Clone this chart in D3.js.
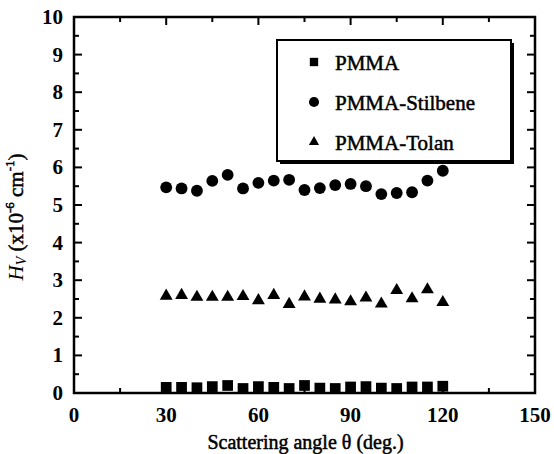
<!DOCTYPE html>
<html><head><meta charset="utf-8">
<script src="https://cdn.jsdelivr.net/npm/d3@7"></script>
<style>body{margin:0;background:#fff}svg{display:block}</style>
</head><body><svg id="c" width="554" height="454"></svg>
<script>
const angles = [30,35,40,45,50,55,60,65,70,75,80,85,90,95,100,105,110,115,120];
const pmma = [0.15,0.15,0.14,0.17,0.2,0.12,0.17,0.15,0.12,0.2,0.13,0.12,0.16,0.17,0.13,0.12,0.16,0.16,0.18];
const stilbene = [5.47,5.44,5.38,5.64,5.80,5.44,5.59,5.65,5.67,5.40,5.45,5.53,5.56,5.50,5.29,5.32,5.34,5.65,5.91];
const tolan = [2.58,2.60,2.55,2.55,2.55,2.57,2.46,2.60,2.36,2.56,2.50,2.48,2.43,2.53,2.37,2.73,2.51,2.75,2.41];
const xTicks = [0,30,60,90,120,150];
const yTicks = [0,1,2,3,4,5,6,7,8,9,10];
const seriesNames = ["PMMA","PMMA-Stilbene","PMMA-Tolan"];

const svg = d3.select("#c");
const L=74,R=535,T=17,B=393;
const x = d3.scaleLinear().domain([0,150]).range([L,R]);
const y = d3.scaleLinear().domain([0,10]).range([B,T]);
const font = "'Liberation Serif','Times New Roman',serif";

const g = svg.append("g");
const xMinor = d3.range(0,151,15);
const yMinor = d3.range(0,10.01,0.5);
xMinor.forEach(v=>{
  const len = v%30===0?8:5;
  g.append("line").attr("x1",x(v)).attr("x2",x(v)).attr("y1",B).attr("y2",B-len).attr("stroke","#000").attr("stroke-width",2);
  g.append("line").attr("x1",x(v)).attr("x2",x(v)).attr("y1",T).attr("y2",T+len).attr("stroke","#000").attr("stroke-width",2);
});
yMinor.forEach(v=>{
  const len = Math.abs(v-Math.round(v))<1e-6?8:5;
  g.append("line").attr("x1",L).attr("x2",L+len).attr("y1",y(v)).attr("y2",y(v)).attr("stroke","#000").attr("stroke-width",2);
  g.append("line").attr("x1",R).attr("x2",R-len).attr("y1",y(v)).attr("y2",y(v)).attr("stroke","#000").attr("stroke-width",2);
});
svg.append("rect").attr("x",L).attr("y",T).attr("width",R-L).attr("height",B-T)
  .attr("fill","none").attr("stroke","#000").attr("stroke-width",2.5);

svg.selectAll(".xt").data(xTicks).enter().append("text")
  .attr("x",d=>x(d)).attr("y",B+29).attr("text-anchor","middle")
  .attr("font-family",font).attr("font-weight","bold").attr("font-size",21).text(d=>d);
svg.selectAll(".yt").data(yTicks).enter().append("text")
  .attr("x",L-11).attr("y",d=>y(d)+7).attr("text-anchor","end")
  .attr("font-family",font).attr("font-weight","bold").attr("font-size",21).text(d=>d);

svg.append("text").attr("x",(L+R)/2+1).attr("y",449).attr("text-anchor","middle")
  .attr("font-family",font).attr("font-size",20).attr("stroke","#000").attr("stroke-width",0.5)
  .text("Scattering angle θ (deg.)");
const yl = svg.append("text").attr("transform",`translate(23,${(T+B)/2+12}) rotate(-90)`)
  .attr("text-anchor","middle").attr("font-family",font).attr("font-size",21)
  .attr("stroke","#000").attr("stroke-width",0.5);
yl.append("tspan").attr("font-style","italic").attr("stroke-width",0).text("H");
yl.append("tspan").attr("font-style","italic").attr("stroke-width",0).attr("font-size",14).attr("dy",3).text("V");
yl.append("tspan").attr("dy",-3).text(" (x10");
yl.append("tspan").attr("font-size",13).attr("dy",-9).text("-6");
yl.append("tspan").attr("dy",9).text(" cm");
yl.append("tspan").attr("font-size",13).attr("dy",-9).text("-1");
yl.append("tspan").attr("dy",9).text(")");

const sq = d3.symbol().type(d3.symbolSquare).size(115);
const ci = d3.symbol().type(d3.symbolCircle).size(110);
const tr = d3.symbol().type(d3.symbolTriangle).size(72);
svg.selectAll(".p").data(angles).enter().append("path")
  .attr("transform",(d,i)=>`translate(${x(d)},${y(pmma[i])})`).attr("d",sq).attr("fill","#000");
svg.selectAll(".s").data(angles).enter().append("path")
  .attr("transform",(d,i)=>`translate(${x(d)},${y(stilbene[i])})`).attr("d",ci).attr("fill","#000");
svg.selectAll(".t").data(angles).enter().append("path")
  .attr("transform",(d,i)=>`translate(${x(d)},${y(tolan[i])})`).attr("d",tr).attr("fill","#000");

const lx=277, ly=40, lw=234, lh=121;
svg.append("rect").attr("x",lx+3).attr("y",ly+3).attr("width",lw).attr("height",lh).attr("fill","#000");
svg.append("rect").attr("x",lx).attr("y",ly).attr("width",lw).attr("height",lh).attr("fill","#fff").attr("stroke","#000").attr("stroke-width",2);
const legSyms=[d3.symbol().type(d3.symbolSquare).size(70),d3.symbol().type(d3.symbolCircle).size(80),d3.symbol().type(d3.symbolTriangle).size(45)];
seriesNames.forEach((n,i)=>{
  const yy = ly+22+i*40;
  svg.append("path").attr("transform",`translate(${lx+37},${yy})`).attr("d",legSyms[i]).attr("fill","#000");
  svg.append("text").attr("x",lx+58).attr("y",yy+8).attr("font-family",font).attr("font-size",21)
    .attr("stroke","#000").attr("stroke-width",0.5).text(n);
});
</script></body></html>
